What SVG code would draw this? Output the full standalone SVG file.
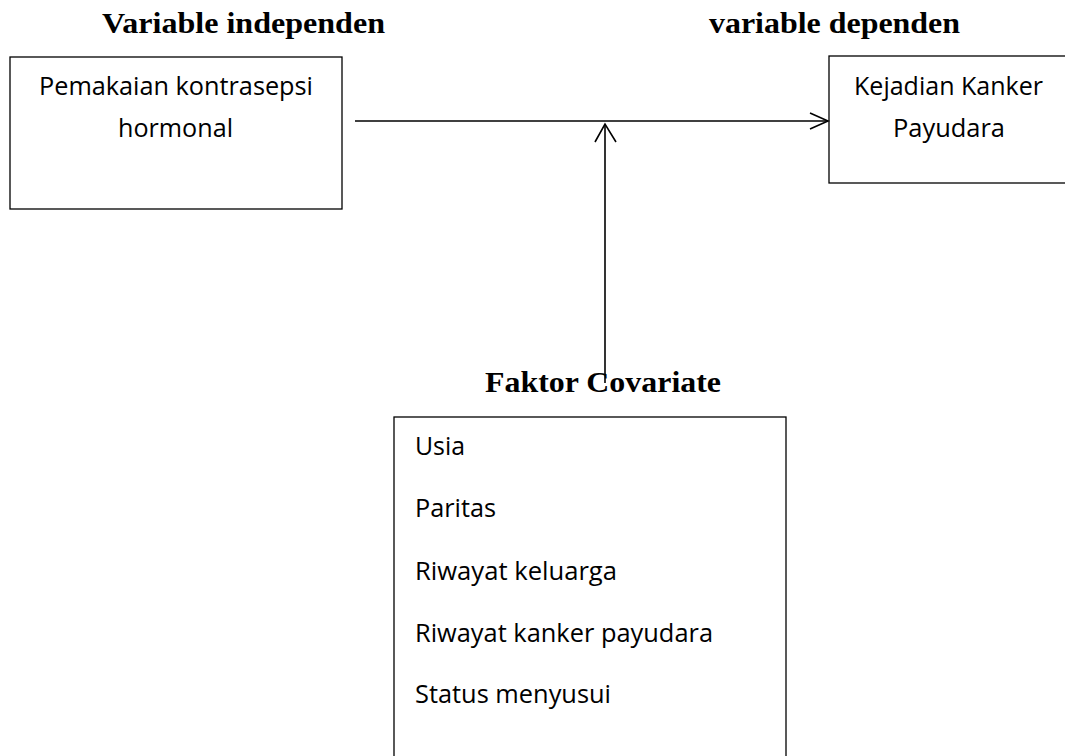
<svg xmlns="http://www.w3.org/2000/svg" width="1065" height="756" viewBox="0 0 1065 756">
<style>
.box{fill:#fff;stroke:#000;stroke-width:1.3}
.title{font-family:"Liberation Serif",serif;font-weight:bold;font-size:30px;fill:#000}
.lbl{font-family:"Open Sans","Noto Sans",sans-serif;font-size:25px;fill:#000}
.conn{stroke:#000;stroke-width:1.6;fill:none}
</style>
<rect width="1065" height="756" fill="#fff"/>
<text class="title" x="102" y="33" textLength="283" lengthAdjust="spacingAndGlyphs">Variable independen</text>
<text class="title" x="709" y="33" textLength="251" lengthAdjust="spacingAndGlyphs">variable dependen</text>
<text class="title" x="485" y="392" textLength="236" lengthAdjust="spacingAndGlyphs">Faktor Covariate</text>
<g id="node-independen">
<rect class="box" x="10" y="57" width="332" height="152"/>
<text class="lbl" x="39" y="95" textLength="274" lengthAdjust="spacingAndGlyphs">Pemakaian kontrasepsi</text>
<text class="lbl" x="118" y="137" textLength="115" lengthAdjust="spacingAndGlyphs">hormonal</text>
</g>
<g id="node-dependen">
<rect class="box" x="829" y="56" width="240" height="127"/>
<text class="lbl" x="854" y="95" textLength="189" lengthAdjust="spacingAndGlyphs">Kejadian Kanker</text>
<text class="lbl" x="893" y="137" textLength="112" lengthAdjust="spacingAndGlyphs">Payudara</text>
</g>
<g id="node-covariate">
<rect class="box" x="394" y="417" width="392" height="360"/>
<text class="lbl" x="415" y="455" textLength="50" lengthAdjust="spacingAndGlyphs">Usia</text>
<text class="lbl" x="415" y="517" textLength="81" lengthAdjust="spacingAndGlyphs">Paritas</text>
<text class="lbl" x="415" y="580" textLength="202" lengthAdjust="spacingAndGlyphs">Riwayat keluarga</text>
<text class="lbl" x="415" y="642" textLength="298" lengthAdjust="spacingAndGlyphs">Riwayat kanker payudara</text>
<text class="lbl" x="415" y="703" textLength="196" lengthAdjust="spacingAndGlyphs">Status menyusui</text>
</g>
<g id="connectors">
<path class="conn" d="M355 121 H828"/>
<path class="conn" d="M810 113 L828 121 L810 129"/>
<path class="conn" d="M605 383 V124"/>
<path class="conn" d="M595 142 L605 124 L616 142"/>
</g>
</svg>
